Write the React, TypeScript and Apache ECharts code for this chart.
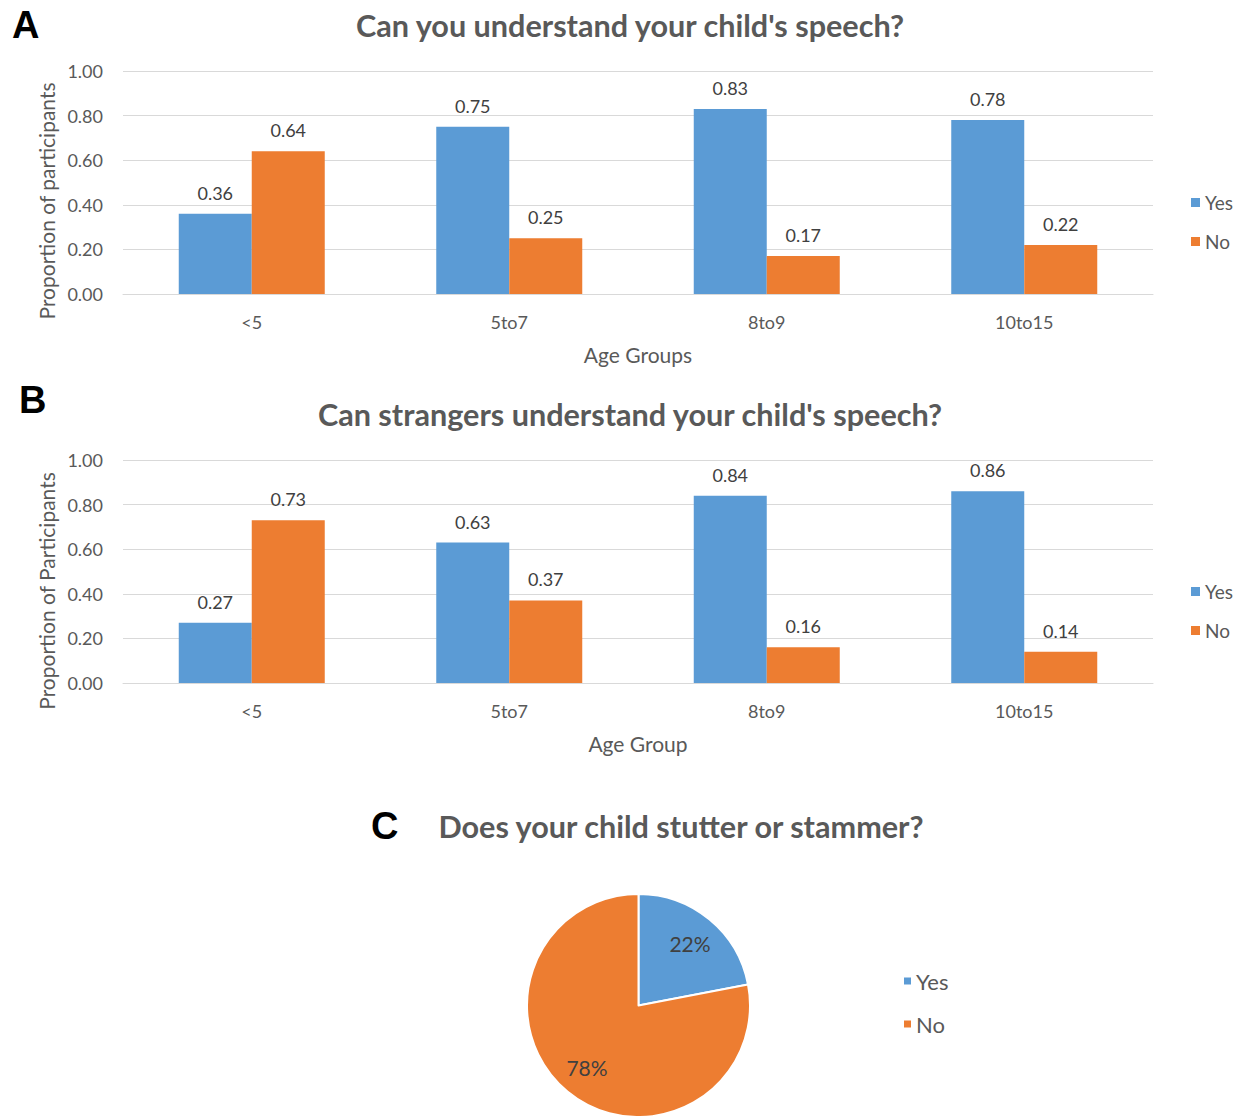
import React, { useEffect, useRef } from "react";
import * as echarts from "echarts";

const categories = ["<5", "5to7", "8to9", "10to15"];
const understandYes = [0.36, 0.75, 0.83, 0.78];
const understandNo = [0.64, 0.25, 0.17, 0.22];
const strangersYes = [0.27, 0.63, 0.84, 0.86];
const strangersNo = [0.73, 0.37, 0.16, 0.14];
const stutterNames = ["Yes", "No"];
const stutterValues = [22, 78];
const yTicks = [0, 0.2, 0.4, 0.6, 0.8, 1.0];

const BLUE = "#5B9BD5";
const ORANGE = "#ED7D31";
const GREY = "#595959";
const DARK = "#404040";
const FONT = "Lato, 'Open Sans', sans-serif";

export default function App() {
  const ref = useRef<HTMLDivElement>(null);
  useEffect(() => {
    if (!ref.current) return;
    const chart = echarts.init(ref.current, undefined, { renderer: "svg" });

    const mkY = (gridIndex: number) => ({
      type: "value",
      gridIndex,
      min: yTicks[0],
      max: yTicks[yTicks.length - 1],
      interval: 0.2,
      axisLine: { show: false },
      axisTick: { show: false },
      splitLine: { lineStyle: { color: "#D9D9D9", width: 1 } },
      axisLabel: {
        formatter: (v: number) => v.toFixed(2),
        color: GREY,
        fontSize: 18,
        fontFamily: FONT,
        margin: 20,
      },
    });
    const mkX = (gridIndex: number, name: string) => ({
      type: "category",
      gridIndex,
      data: categories,
      axisLine: { lineStyle: { color: "#D9D9D9", width: 1 } },
      axisTick: { show: false },
      axisLabel: { color: GREY, fontSize: 18, fontFamily: FONT, margin: 19 },
      name,
      nameLocation: "middle",
      nameGap: 50,
      nameTextStyle: { color: GREY, fontSize: 21, fontFamily: FONT },
    });
    const barLabel = {
      show: true,
      position: "top",
      distance: 12,
      color: DARK,
      fontSize: 18,
      fontFamily: FONT,
      formatter: (p: any) => Number(p.value).toFixed(2),
    };
    const mkBar = (name: string, data: number[], idx: number, color: string) => ({
      type: "bar",
      name,
      data,
      xAxisIndex: idx,
      yAxisIndex: idx,
      barWidth: 73,
      barGap: "0%",
      itemStyle: { color },
      label: barLabel,
    });
    const legendBase = {
      orient: "vertical",
      icon: "rect",
      itemWidth: 9,
      itemHeight: 9,
      itemGap: 20,
      data: ["Yes", "No"],
      textStyle: { color: GREY, fontSize: 19, fontFamily: FONT },
      selectedMode: false,
    };
    const titleStyle = { fill: GREY, fontSize: 30.6, fontWeight: "bold", fontFamily: FONT };
    const letterStyle = { fill: "#000", fontSize: 38, fontWeight: "bold", fontFamily: "'Liberation Sans', Arial, sans-serif" };
    const yNameStyle = { fill: GREY, fontSize: 21, fontFamily: FONT };

    chart.setOption({
      animation: false,
      backgroundColor: "#fff",
      grid: [
        { left: 123, top: 71, width: 1030, height: 223 },
        { left: 123, top: 460, width: 1030, height: 223 },
      ],
      xAxis: [mkX(0, "Age Groups"), mkX(1, "Age Group")],
      yAxis: [mkY(0), mkY(1)],
      legend: [
        { ...legendBase, left: 1186, top: 188 },
        { ...legendBase, left: 1186, top: 577 },
        {
          ...legendBase,
          left: 899,
          top: 965,
          itemWidth: 7,
          itemHeight: 7,
          itemGap: 21,
          textStyle: { color: GREY, fontSize: 22, fontFamily: FONT },
        },
      ],
      graphic: [
        { type: "text", x: 12, y: 6, style: { text: "A", ...letterStyle } },
        { type: "text", x: 19, y: 381, style: { text: "B", ...letterStyle } },
        { type: "text", x: 371, y: 807, style: { text: "C", ...letterStyle } },
        { type: "text", x: 630, y: 25, style: { text: "Can you understand your child's speech?", align: "center", verticalAlign: "middle", ...titleStyle } },
        { type: "text", x: 630, y: 414, style: { text: "Can strangers understand your child's speech?", align: "center", verticalAlign: "middle", ...titleStyle } },
        { type: "text", x: 681, y: 826, style: { text: "Does your child stutter or stammer?", align: "center", verticalAlign: "middle", ...titleStyle } },
        { type: "text", x: 46, y: 201, rotation: Math.PI / 2, style: { text: "Proportion of participants", align: "center", verticalAlign: "middle", ...yNameStyle } },
        { type: "text", x: 46, y: 591, rotation: Math.PI / 2, style: { text: "Proportion of Participants", align: "center", verticalAlign: "middle", ...yNameStyle } },
      ],
      series: [
        mkBar("Yes", understandYes, 0, BLUE),
        mkBar("No", understandNo, 0, ORANGE),
        mkBar("Yes", strangersYes, 1, BLUE),
        mkBar("No", strangersNo, 1, ORANGE),
        {
          type: "pie",
          name: "Stutter",
          center: [638.5, 1005.5],
          radius: [0, 111.5],
          startAngle: 90,
          clockwise: true,
          label: { show: false },
          labelLine: { show: false },
          itemStyle: { borderColor: "#fff", borderWidth: 2 },
          data: stutterNames.map((n, i) => ({ name: n, value: stutterValues[i], itemStyle: { color: i === 0 ? BLUE : ORANGE } })),
        },
        {
          type: "pie",
          name: "StutterLabels",
          silent: true,
          center: [638.5, 1005.5],
          radius: [44, 111.5],
          startAngle: 90,
          clockwise: true,
          itemStyle: { color: "rgba(0,0,0,0)" },
          label: { show: true, position: "inside", formatter: "{c}%", color: DARK, fontSize: 21, fontFamily: FONT },
          labelLine: { show: false },
          data: stutterNames.map((n, i) => ({ name: n, value: stutterValues[i] })),
        },
      ],
    });
    return () => chart.dispose();
  }, []);
  return <div ref={ref} style={{ position: "absolute", left: 0, top: 0, width: 1246, height: 1116 }} />;
}
